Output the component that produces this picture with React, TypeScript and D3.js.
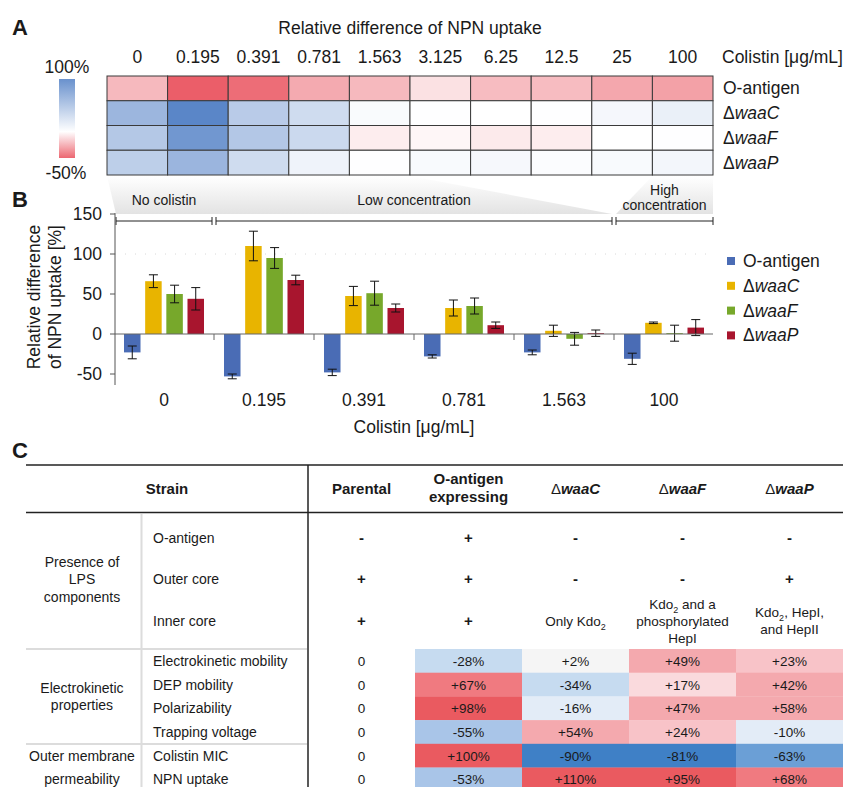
import React from 'react';
import * as d3 from 'd3';

const FONT = '"Liberation Sans", Arial, Helvetica, sans-serif';
const INK = '#1a1a1a';

// ---- A: heatmap of relative NPN uptake ----
const concentrations = ['0', '0.195', '0.391', '0.781', '1.563', '3.125', '6.25', '12.5', '25', '100'];
const strainNames = ['O-antigen', 'waaC', 'waaF', 'waaP'];
const heatOAntigen = [-23, -53, -48, -28, -23, -10, -22, -22, -29, -31];
const heatWaaC = [66, 110, 47, 32, 4, 1, 0, 1, 7, 14];
const heatWaaF = [50, 95, 51, 35, -6, -3, -7, -6, 0, 1];
const heatWaaP = [44, 67, 32, 11, 1, 5, 6, 3, 5, 8];
const heatRows = [heatOAntigen, heatWaaC, heatWaaF, heatWaaP];
const colorbarTicks = ['100%', '-50%'];

// ---- B: bars with error bars ----
const barGroups = ['0', '0.195', '0.391', '0.781', '1.563', '100'];
const barOAntigen = [-23, -53, -48, -28, -23, -31];
const errOAntigen = [8, 3, 4, 2, 3, 7];
const barWaaC = [66, 110, 47.5, 32.5, 4, 14];
const errWaaC = [8, 18.5, 12, 10, 7, 1];
const barWaaF = [50, 95, 51, 35, -6, 1];
const errWaaF = [11, 13, 15, 10, 8, 10];
const barWaaP = [44, 67.5, 32.5, 11, 1, 8];
const errWaaP = [14, 6, 5, 4, 4, 10];
const barSeries = [
  { name: 'O-antigen', values: barOAntigen, errors: errOAntigen, color: '#4a6cb5' },
  { name: 'waaC', values: barWaaC, errors: errWaaC, color: '#e8b400' },
  { name: 'waaF', values: barWaaF, errors: errWaaF, color: '#77a82b' },
  { name: 'waaP', values: barWaaP, errors: errWaaP, color: '#a8152e' },
];
const yTicks = [-50, 0, 50, 100, 150];
const concentrationRanges = [
  { label: ['No colistin'], groups: ['0'], heat: ['0', '0'] },
  { label: ['Low concentration'], groups: ['0.195', '0.391', '0.781', '1.563'], heat: ['0.195', '1.563'] },
  { label: ['High', 'concentration'], groups: ['100'], heat: ['100', '100'] },
];

// ---- C: table ----
const tableColumns = ['Parental', 'O-antigen expressing', 'waaC', 'waaF', 'waaP'];
const lpsComponents = ['O-antigen', 'Outer core', 'Inner core'];
const lpsPresence = [
  [['-'], ['+'], ['-'], ['-'], ['-']],
  [['+'], ['+'], ['-'], ['-'], ['+']],
  [['+'], ['+'], ['Only Kdo₂'], ['Kdo₂ and a', 'phosphorylated', 'HepI'], ['Kdo₂, HepI,', 'and HepII']],
];
const propertyNames = ['Electrokinetic mobility', 'DEP mobility', 'Polarizability', 'Trapping voltage', 'Colistin MIC', 'NPN uptake'];
const parentalValues = [0, 0, 0, 0, 0, 0];
const oAntigenValues = [-28, 67, 98, -55, 100, -53];
const waaCValues = [2, -34, -16, 54, -90, 110];
const waaFValues = [49, 17, 47, 24, -81, 95];
const waaPValues = [23, 42, 58, -10, -63, 68];
const propertyColumns = [parentalValues, oAntigenValues, waaCValues, waaFValues, waaPValues];
const propertyGroups = [
  { label: ['Electrokinetic', 'properties'], from: 0, to: 3 },
  { label: ['Outer membrane', 'permeability'], from: 4, to: 5 },
];

const heatColor = d3.scaleLinear<string>()
  .domain([-53, 0, 120])
  .range(['#eb5e69', '#ffffff', '#4b7bc3'])
  .interpolate(d3.interpolateRgb)
  .clamp(true);

const tableColor = d3.scaleThreshold<number, string>()
  .domain([-70, -60, -40, -20, -5, 10, 20, 40, 60, 90])
  .range(['#3f80c6', '#6b9fd6', '#a9c5e8', '#c6dbf0', '#e3ecf7', '#f5f5f5', '#fadadd', '#f8c3c8', '#f4a9ae', '#f07a80', '#ea5a60']);

const StrainLabel = ({ name, bold }: { name: string; bold?: boolean }) =>
  name.startsWith('waa') ? (
    <>
      <tspan fontWeight="normal">Δ</tspan>
      <tspan fontStyle="italic" fontWeight={bold ? 'bold' : 'normal'}>{name}</tspan>
    </>
  ) : (
    <>{name}</>
  );

const Sub = ({ s }: { s: string }) => {
  const parts = s.split('₂');
  return (
    <>
      {parts.map((p, i) => (
        <React.Fragment key={i}>
          {i > 0 && <tspan fontSize={9} dy={4}>2</tspan>}
          {i > 0 ? <tspan dy={-4}>{p}</tspan> : p}
        </React.Fragment>
      ))}
    </>
  );
};

const fmt = (v: number) => (v === 0 ? '0' : v > 0 ? `+${v}%` : `${v}%`);

export default function App() {
  // panel A scales
  const hx = d3.scaleBand<string>().domain(concentrations).range([107, 713]);
  const hy = d3.scaleBand<string>().domain(strainNames).range([76, 175]);
  const cbar = d3.scaleLinear().domain([100, -50]).range([0, 1]);
  const cbarStops = [100, 50, 20, 0, -15, -30, -50];

  // panel B scales
  const bx = d3.scaleBand<string>().domain(barGroups).range([114, 714]).paddingInner(0.2).paddingOuter(0.1);
  const inner = d3.scaleBand<string>().domain(strainNames).range([0, bx.bandwidth()]).paddingInner(0.22);
  const by = d3.scaleLinear().domain([-50, 150]).range([374, 214]);
  const cellStart = (g: string) => (bx(g) ?? 0) - (bx.step() - bx.bandwidth()) / 2;
  const cellEnd = (g: string) => cellStart(g) + bx.step();
  const axisX = 115;
  const bracketY = 221;
  const brackets = concentrationRanges.map((r, i) => {
    const x1 = i === 0 ? axisX + 1 : cellStart(r.groups[0]) + 2;
    const x2 = i === concentrationRanges.length - 1 ? 713 : cellEnd(r.groups[r.groups.length - 1]) - 2;
    return { ...r, x1, x2 };
  });

  // panel C scales
  const cx = d3.scaleBand<string>().domain(tableColumns).range([308, 843]);
  const lpsY = d3.scaleBand<string>().domain(lpsComponents).range([517, 641.5]);
  const py = d3.scaleBand<string>().domain(propertyNames).range([649, 649 + 6 * 23.7]);

  return (
    <svg width={846} height={787} style={{ position: 'absolute', left: 0, top: 0, background: '#fff' }}
      fontFamily={FONT} fill={INK}>
      <defs>
        <linearGradient id="cbar" x1="0" y1="0" x2="0" y2="1">
          {cbarStops.map(v => <stop key={v} offset={cbar(v)} stopColor={heatColor(v)} />)}
        </linearGradient>
        <linearGradient id="shade" x1="0" y1="0" x2="0" y2="1">
          <stop offset="0" stopColor="#ffffff" />
          <stop offset="1" stopColor="#e3e3e3" />
        </linearGradient>
      </defs>

      {/* ===== A ===== */}
      <text x={12} y={35} fontSize={22} fontWeight="bold">A</text>
      <text x={410} y={34} fontSize={17.5} textAnchor="middle">Relative difference of NPN uptake</text>
      {concentrations.map(c => (
        <text key={c} x={(hx(c) ?? 0) + hx.bandwidth() / 2} y={63} fontSize={17.5} textAnchor="middle">{c}</text>
      ))}
      <text x={722} y={63} fontSize={17.5}>Colistin [μg/mL]</text>
      {strainNames.map((s, r) => (
        <g key={s}>
          {concentrations.map((c, j) => (
            <rect key={c} x={hx(c)} y={hy(s)} width={hx.bandwidth()} height={hy.bandwidth()}
              fill={heatColor(heatRows[r][j])} stroke="#3a3a3a" strokeWidth={1} />
          ))}
          <text x={723} y={(hy(s) ?? 0) + hy.bandwidth() / 2 + 6} fontSize={17.5}>
            <StrainLabel name={s} />
          </text>
        </g>
      ))}
      <rect x={59} y={79} width={16} height={79} fill="url(#cbar)" />
      <text x={67} y={73} fontSize={17.5} textAnchor="middle">{colorbarTicks[0]}</text>
      <text x={66} y={179} fontSize={17.5} textAnchor="middle">{colorbarTicks[1]}</text>

      {/* projection band from heatmap to bar groups */}
      {[[brackets[0], brackets[1]], [brackets[2], brackets[2]]].map(([a, b], i) => (
        <polygon key={i}
          points={[
            [hx(a.heat[0]) ?? 0, 176],
            [(hx(b.heat[1]) ?? 0) + hx.bandwidth(), 176],
            [b.x2, 214],
            [a.x1, 214],
          ].map(p => p.join(',')).join(' ')}
          fill="url(#shade)" />
      ))}

      {/* ===== B ===== */}
      <text x={12} y={207} fontSize={22} fontWeight="bold">B</text>
      {brackets.map(b => {
        const mid = (b.x1 + b.x2) / 2;
        return (
          <g key={b.label.join(' ')}>
            <line x1={b.x1} x2={b.x2} y1={bracketY} y2={bracketY} stroke="#222" />
            <line x1={b.x1} x2={b.x1} y1={bracketY - 4} y2={bracketY + 4} stroke="#222" />
            <line x1={b.x2} x2={b.x2} y1={bracketY - 4} y2={bracketY + 4} stroke="#222" />
            {b.label.map((l, k) => (
              <text key={l} x={mid} y={b.label.length === 1 ? 205 : 195 + k * 15}
                fontSize={14} textAnchor="middle">{l}</text>
            ))}
          </g>
        );
      })}
      <line x1={axisX} x2={713} y1={by(100)} y2={by(100)} stroke="#d8d8d8" strokeDasharray="1 9" />
      {barSeries.map(s => (
        <g key={s.name}>
          {barGroups.map((g, i) => {
            const v = s.values[i];
            const x = (bx(g) ?? 0) + (inner(s.name) ?? 0);
            const cxm = x + inner.bandwidth() / 2;
            const e = s.errors[i];
            return (
              <g key={g}>
                <rect x={x} width={inner.bandwidth()} y={Math.min(by(v), by(0))}
                  height={Math.abs(by(v) - by(0))} fill={s.color} />
                <line x1={cxm} x2={cxm} y1={by(v - e)} y2={by(v + e)} stroke="#111" />
                <line x1={cxm - 4.5} x2={cxm + 4.5} y1={by(v - e)} y2={by(v - e)} stroke="#111" />
                <line x1={cxm - 4.5} x2={cxm + 4.5} y1={by(v + e)} y2={by(v + e)} stroke="#111" />
              </g>
            );
          })}
        </g>
      ))}
      <line x1={axisX} x2={713} y1={by(0)} y2={by(0)} stroke="#666" strokeWidth={1.2} />
      {barGroups.slice(1).map(g => (
        <line key={g} x1={cellStart(g)} x2={cellStart(g)} y1={by(0)} y2={by(0) + 6} stroke="#666" />
      ))}
      <line x1={axisX} x2={axisX} y1={213} y2={385} stroke="#555" />
      {yTicks.map(t => (
        <g key={t}>
          <line x1={axisX - 5} x2={axisX} y1={by(t)} y2={by(t)} stroke="#555" />
          <text x={102} y={by(t) + 6} fontSize={17.5} textAnchor="end">{t}</text>
        </g>
      ))}
      {barGroups.map(g => (
        <text key={g} x={(bx(g) ?? 0) + bx.bandwidth() / 2} y={406} fontSize={17.5} textAnchor="middle">{g}</text>
      ))}
      <text x={414} y={433} fontSize={17.5} textAnchor="middle">Colistin [μg/mL]</text>
      <g transform="translate(34,297) rotate(-90)">
        <text x={0} y={0} fontSize={17.5} textAnchor="middle" dominantBaseline="central">Relative difference</text>
        <text x={0} y={21} fontSize={17.5} textAnchor="middle" dominantBaseline="central">of NPN uptake [%]</text>
      </g>
      {barSeries.map((s, i) => (
        <g key={s.name} transform={`translate(727,${261 + i * 24.8})`}>
          <rect x={0} y={-4} width={8} height={8} fill={s.color} />
          <text x={16} y={6} fontSize={17.5}><StrainLabel name={s.name} /></text>
        </g>
      ))}

      {/* ===== C ===== */}
      <text x={12} y={458} fontSize={22} fontWeight="bold">C</text>
      {propertyNames.map((p, r) => (
        <g key={p}>
          {tableColumns.map((c, j) => j === 0 ? null : (
            <rect key={c} x={cx(c)} y={py(p)} width={cx.bandwidth()} height={py.bandwidth() + 0.3}
              fill={tableColor(propertyColumns[j][r])} />
          ))}
        </g>
      ))}
      <line x1={26} x2={843} y1={465} y2={465} stroke="#222" strokeWidth={1.5} />
      <line x1={26} x2={843} y1={512.5} y2={512.5} stroke="#222" strokeWidth={1.5} />
      <line x1={308} x2={308} y1={465} y2={787} stroke="#222" strokeWidth={1.5} />
      <line x1={141.5} x2={141.5} y1={514} y2={787} stroke="#dcdcdc" strokeWidth={2} />
      <line x1={26} x2={307} y1={649} y2={649} stroke="#dcdcdc" strokeWidth={2} />
      <line x1={26} x2={307} y1={744} y2={744} stroke="#dcdcdc" strokeWidth={2} />

      <g fontSize={15} fontWeight="bold" textAnchor="middle">
        <text x={167} y={494}>Strain</text>
        {tableColumns.map(c => {
          const mx = (cx(c) ?? 0) + cx.bandwidth() / 2;
          if (c === 'O-antigen expressing') {
            return (
              <g key={c}>
                <text x={mx} y={484}>O-antigen</text>
                <text x={mx} y={502}>expressing</text>
              </g>
            );
          }
          return <text key={c} x={mx} y={494}><StrainLabel name={c} bold /></text>;
        })}
      </g>

      <g fontSize={14}>
        {['Presence of', 'LPS', 'components'].map((l, k) => (
          <text key={l} x={82} y={(lpsY('Outer core') ?? 0) + lpsY.bandwidth() / 2 + 5 + (k - 1) * 17.5}
            textAnchor="middle">{l}</text>
        ))}
        {lpsComponents.map((comp, r) => {
          const cy = (lpsY(comp) ?? 0) + lpsY.bandwidth() / 2;
          return (
            <g key={comp}>
              <text x={153} y={cy + 5}>{comp}</text>
              {tableColumns.map((c, j) => {
                const lines = lpsPresence[r][j];
                const mx = (cx(c) ?? 0) + cx.bandwidth() / 2;
                return lines.map((l, k) => (
                  <text key={c + k} x={mx} y={cy + 5 + (k - (lines.length - 1) / 2) * 17}
                    textAnchor="middle" fontSize={lines[0].length === 1 ? 15 : 13.5}
                    fontWeight={lines[0].length === 1 ? 'bold' : 'normal'}>
                    <Sub s={l} />
                  </text>
                ));
              })}
            </g>
          );
        })}
        {propertyGroups.map(g => {
          const top = py(propertyNames[g.from]) ?? 0;
          const bottom = (py(propertyNames[g.to]) ?? 0) + py.bandwidth();
          const mid = (top + bottom) / 2;
          const gap = g.to - g.from === 1 ? py.step() : 17.5;
          return g.label.map((l, k) => (
            <text key={l} x={82} y={mid + 5 + (k - (g.label.length - 1) / 2) * gap} textAnchor="middle">{l}</text>
          ));
        })}
        {propertyNames.map((p, r) => {
          const cy = (py(p) ?? 0) + py.bandwidth() / 2;
          return (
            <g key={p}>
              <text x={153} y={cy + 5}>{p}</text>
              {tableColumns.map((c, j) => (
                <text key={c} x={(cx(c) ?? 0) + cx.bandwidth() / 2} y={cy + 5} textAnchor="middle" fontSize={13.5}>
                  {fmt(propertyColumns[j][r])}
                </text>
              ))}
            </g>
          );
        })}
      </g>
    </svg>
  );
}
